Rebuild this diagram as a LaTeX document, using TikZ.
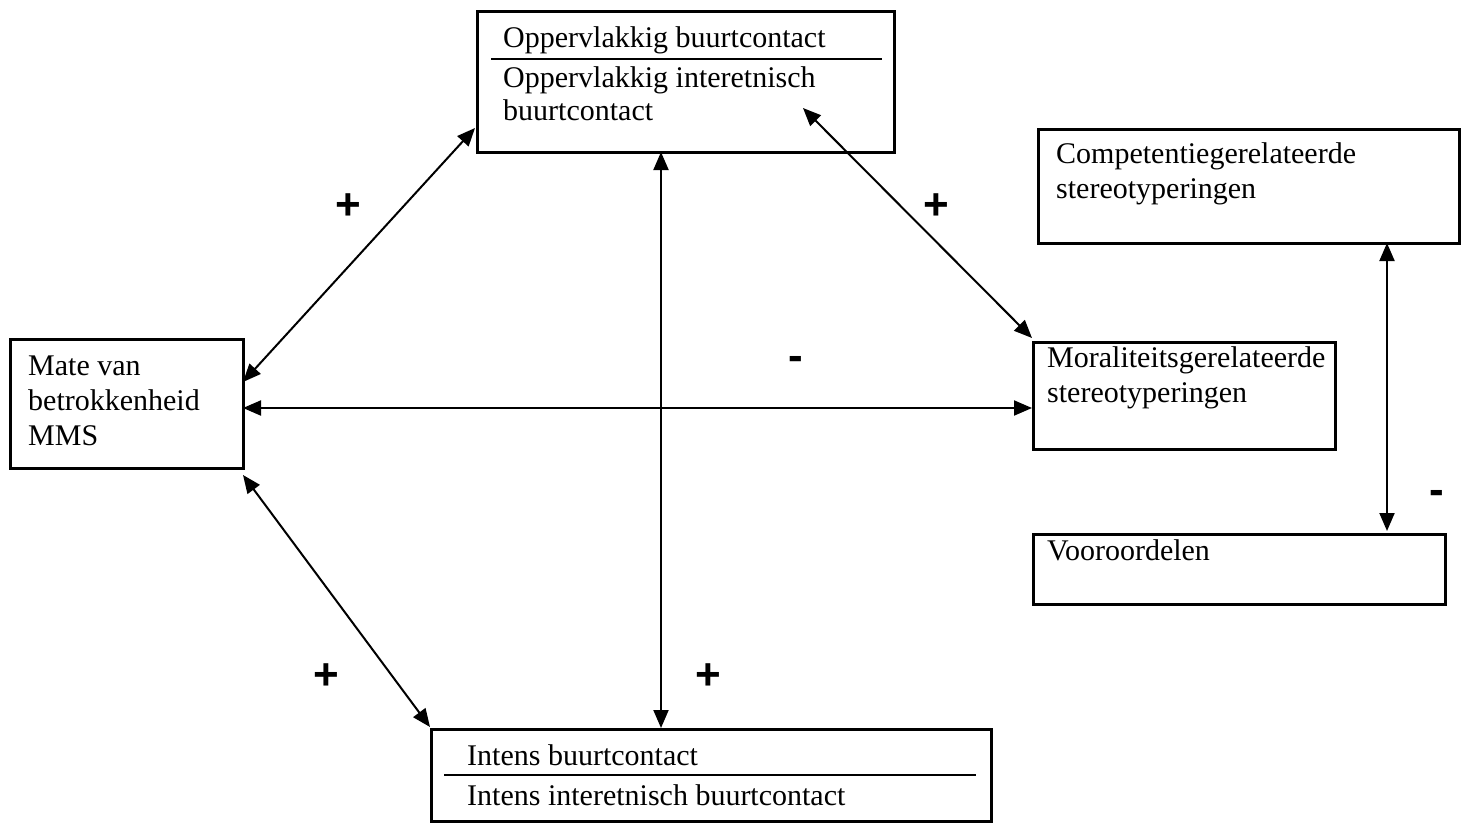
\documentclass[tikz,border=0pt]{standalone}
\usepackage{fontspec}
\setmainfont{Liberation Serif}
\newfontfamily\signfont{Liberation Sans}
\usetikzlibrary{arrows.meta}
\tikzset{
  box/.style={draw, line width=2.6pt, anchor=north west, inner sep=0pt, rectangle},
  txt/.style={anchor=base west, inner sep=0pt, font=\fontsize{30}{33}\selectfont},
  rel/.style={line width=2pt, {Triangle[length=18pt,width=15pt]}-{Triangle[length=18pt,width=15pt]}},
  sign/.style={inner sep=0pt, font=\signfont\bfseries\fontsize{44}{44}\selectfont},
  divider/.style={line width=2.2pt}
}
\begin{document}
\begin{tikzpicture}[x=1pt,y=-1pt]
\useasboundingbox (0,0) rectangle (1466,822);
% boxes
\node[box, minimum width=417pt, minimum height=141pt] (top) at (476,10) {};
\node[box, minimum width=233pt, minimum height=129pt] (mate) at (9,338) {};
\node[box, minimum width=421pt, minimum height=114pt] (comp) at (1037,128) {};
\node[box, minimum width=302pt, minimum height=107pt] (moral) at (1032,341) {};
\node[box, minimum width=412pt, minimum height=70pt] (voor) at (1032,533) {};
\node[box, minimum width=560pt, minimum height=92pt] (intens) at (430,728) {};
% texts
\node[txt] (t1) at (503,47) {Oppervlakkig buurtcontact};
\node[txt] (t2) at (503,87) {Oppervlakkig interetnisch};
\node[txt] (t3) at (503,120) {buurtcontact};
\coordinate (d1a) at (491,59); \coordinate (d1b) at (882,59);
\draw[divider] (d1a) -- (d1b);
\node[txt] (m1) at (28,375) {Mate van};
\node[txt] (m2) at (28,410) {betrokkenheid};
\node[txt] (m3) at (28,445) {MMS};
\node[txt] (c1) at (1056,163) {Competentiegerelateerde};
\node[txt] (c2) at (1056,198) {stereotyperingen};
\node[txt] (r1) at (1047,367) {Moraliteitsgerelateerde};
\node[txt] (r2) at (1047,402) {stereotyperingen};
\node[txt] (v1) at (1047,560) {Vooroordelen};
\node[txt] (i1) at (467,765) {Intens buurtcontact};
\node[txt] (i2) at (467,805) {Intens interetnisch buurtcontact};
\coordinate (d2a) at (444,775); \coordinate (d2b) at (976,775);
\draw[divider] (d2a) -- (d2b);
% connector end points
\coordinate (a1s) at (243,382); \coordinate (a1e) at (475,128);
\coordinate (a2s) at (243,408); \coordinate (a2e) at (1032,408);
\coordinate (a3s) at (243,475); \coordinate (a3e) at (430,727);
\coordinate (a4s) at (661,152); \coordinate (a4e) at (661,728);
\coordinate (a5s) at (803,108); \coordinate (a5e) at (1032,338);
\coordinate (a6s) at (1387,243); \coordinate (a6e) at (1387,531);
\draw[rel] (a1s) -- (a1e);
\draw[rel] (a2s) -- (a2e);
\draw[rel] (a3s) -- (a3e);
\draw[rel] (a4s) -- (a4e);
\draw[rel] (a5s) -- (a5e);
\draw[rel] (a6s) -- (a6e);
% signs
\node[sign] (s1) at (348,207) {+};
\node[sign] (s2) at (936,207) {+};
\node[sign] (s3) at (326,677) {+};
\node[sign] (s4) at (708,677) {+};
\node[sign] (s5) at (796,363) {-};
\node[sign] (s6) at (1437,497) {-};
\end{tikzpicture}
\end{document}
